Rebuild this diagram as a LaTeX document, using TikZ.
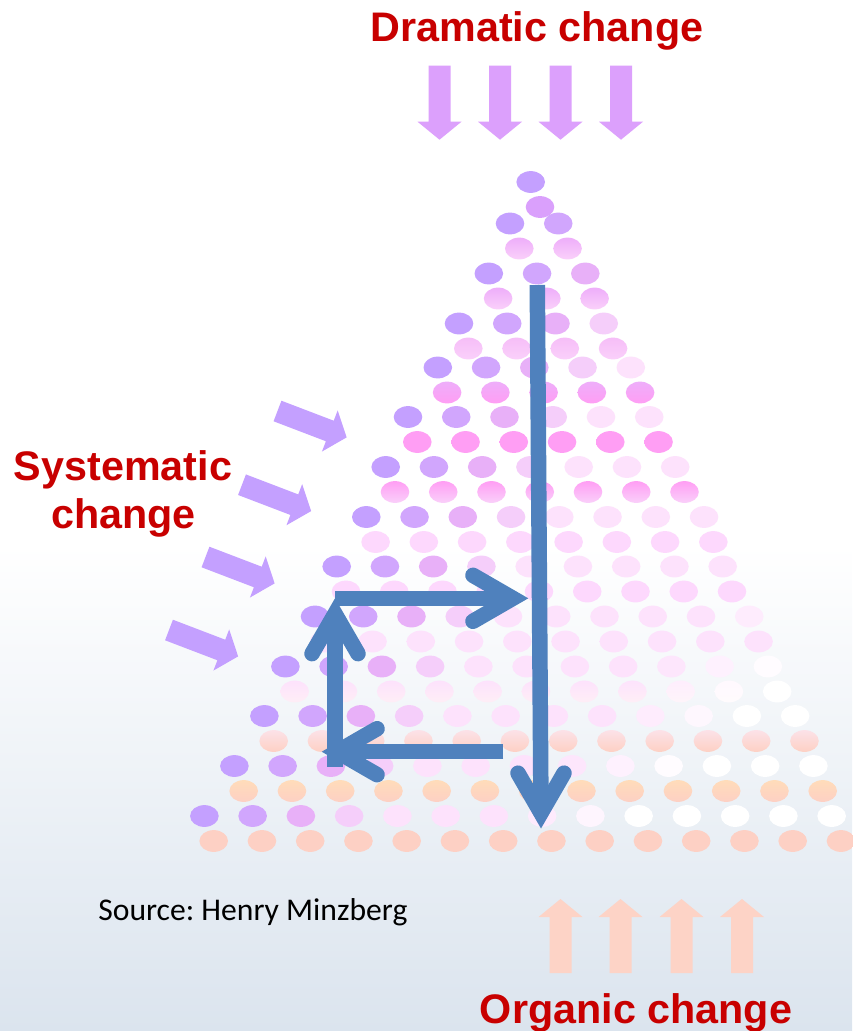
\documentclass[tikz,border=0pt]{standalone}
\usepackage{fontspec}
\usepackage{tikz}
\usetikzlibrary{arrows}
\setmainfont{Liberation Sans}
\newfontfamily\sourcefont{Carlito}
\definecolor{labelred}{RGB}{200,0,0}
\definecolor{flow}{RGB}{79,129,189}
\definecolor{dramatic}{RGB}{220,160,252}
\definecolor{systematic}{RGB}{196,160,255}
\definecolor{organic}{RGB}{253,211,198}
\definecolor{backdrop}{RGB}{219,228,238}
% dot colours
\definecolor{dotPurple}{RGB}{196,160,255}
\definecolor{dotOrchid}{RGB}{232,176,248}
\definecolor{dotLilac}{RGB}{218,160,252}
\definecolor{dotMauve}{RGB}{238,174,250}
\definecolor{dotRose}{RGB}{246,190,248}
\definecolor{dotPink}{RGB}{255,158,244}
\definecolor{dotBlush}{RGB}{250,208,250}
\definecolor{dotPale}{RGB}{253,216,253}
\definecolor{dotMist}{RGB}{253,226,252}
\definecolor{dotShell}{RGB}{254,238,246}
\definecolor{dotPetal}{RGB}{252,226,232}
\definecolor{dotPeach}{RGB}{255,220,186}
\definecolor{dotSalmon}{RGB}{253,208,196}
\colorlet{dotA0}{dotPurple}
\colorlet{dotA1}{dotPurple!65!dotOrchid}
\colorlet{dotA2}{dotOrchid}
\colorlet{dotA3}{dotOrchid!40!dotMist}
\colorlet{dotA4}{dotMist}
\tikzset{
	flowline/.style={draw=flow, line width=0.31cm, line join=miter},
	labeltext/.style={text=labelred, font=\bfseries\fontsize{23.5}{28}\selectfont, inner sep=0pt, anchor=base},
	dotshape/.style={x radius=14.3, y radius=10.9}
}
\newcommand{\changearrow}[4]{% {x}{y}{angle}{colour}
	\fill[#4, shift={(#1,#2)}, rotate=#3] (0,-11) -- (56,-11) -- (56,-22) -- (74,0) -- (56,22) -- (56,11) -- (0,11) -- cycle % block arrow
}
\newcommand{\flowarrow}[3]{% {from}{tip}{direction}
	\draw[flowline] (#1) -- (#2); % shaft
	\draw[flowline, line cap=round] ([shift={(#3+150:46)}]#2) -- (#2) -- ([shift={(#3+210:46)}]#2) % barbs
}

\begin{document}
\begin{tikzpicture}[x=0.02cm, y=-0.02cm]
	\useasboundingbox (0,0) rectangle (852,1031);
	\fill[white] (0,0) rectangle (852,1031);
	\shade[top color=white, bottom color=backdrop] (0,545) rectangle (852,1031);

	% triangle of dots: purple row, pink row below it
	\foreach \ya/\lx/\ct/\cb/\fade [count=\row from 0] in {
			182/530.7/dotLilac/dotLilac/0, 223.5/510/dotMauve/dotBlush/0,
			273.5/488.8/dotMauve/dotBlush/0, 323.5/459/dotRose/dotBlush/0,
			367.5/437.8/dotMauve/dotPink/0, 417/408/dotPink/dotPink/0,
			467/385.7/dotPink/dotBlush/0, 517/366.3/dotPale/dotPale/0,
			566.5/336.7/dotPale/dotPale/0, 616.5/315/dotMist/dotMist/0,
			666.5/285.4/dotMist/dotShell/1, 716/264.4/dotPetal/dotSalmon/0,
			766/234.4/dotPeach/dotSalmon/0, 816/204.4/dotSalmon/dotSalmon/0} {
		\foreach \pos in {0,...,\row} {
			\pgfmathsetmacro{\x}{\lx+48.25*\pos}
			\pgfmathtruncatemacro{\tone}{min(\pos,4)}
			\pgfmathtruncatemacro{\keep}{100-100*max(0,min(1,(\x+\ya-1320)/130))}
			\pgfmathtruncatemacro{\keepb}{100-100*\fade*max(0,min(1,(\x+\ya-1286)/130))}
			\fill[fill=dotA\tone!\keep!white] (\x,\ya) ellipse [dotshape];
			\shade[top color=\ct!\keepb!white, bottom color=\cb!\keepb!white] (\x+9.3,\ya+25) ellipse [dotshape];
		}
	}

	% arrows of change
	\foreach \x in {439.5, 500, 560.5, 621} {\changearrow{\x}{65.7}{-90}{dramatic};}
	\foreach \x/\y in {277.5/411, 242/484.7, 205.5/557, 169/630} {\changearrow{\x}{\y}{-20.9}{systematic};}
	\foreach \x in {560.5, 620.5, 681.5, 742} {\changearrow{\x}{973}{90}{organic};}

	% blue loop and drop
	\coordinate (down0) at (537.3,285);
	\coordinate (down1) at (541,813);
	\coordinate (back0) at (503.3,751.7);
	\coordinate (back1) at (337.2,751.7);
	\coordinate (up0) at (335,766.7);
	\coordinate (up1) at (335,613.8);
	\coordinate (across0) at (335,598.3);
	\coordinate (across1) at (512.8,598.3);
	\flowarrow{down0}{down1}{90};
	\flowarrow{back0}{back1}{180};
	\flowarrow{up0}{up1}{-90};
	\flowarrow{across0}{across1}{0};

	\node[labeltext] (dramatic) at (537,41) {Dramatic change};
	\node[labeltext] (systematic) at (123,480) {Systematic};
	\node[labeltext] (systematic2) at (123.5,528) {change};
	\node[labeltext] (organic) at (636,1023) {Organic change};
	\node[anchor=base west, inner sep=0pt, font=\sourcefont\fontsize{18}{22}\selectfont\frenchspacing] (source) at (98,920) {Source: Henry Minzberg};
\end{tikzpicture}
\end{document}
